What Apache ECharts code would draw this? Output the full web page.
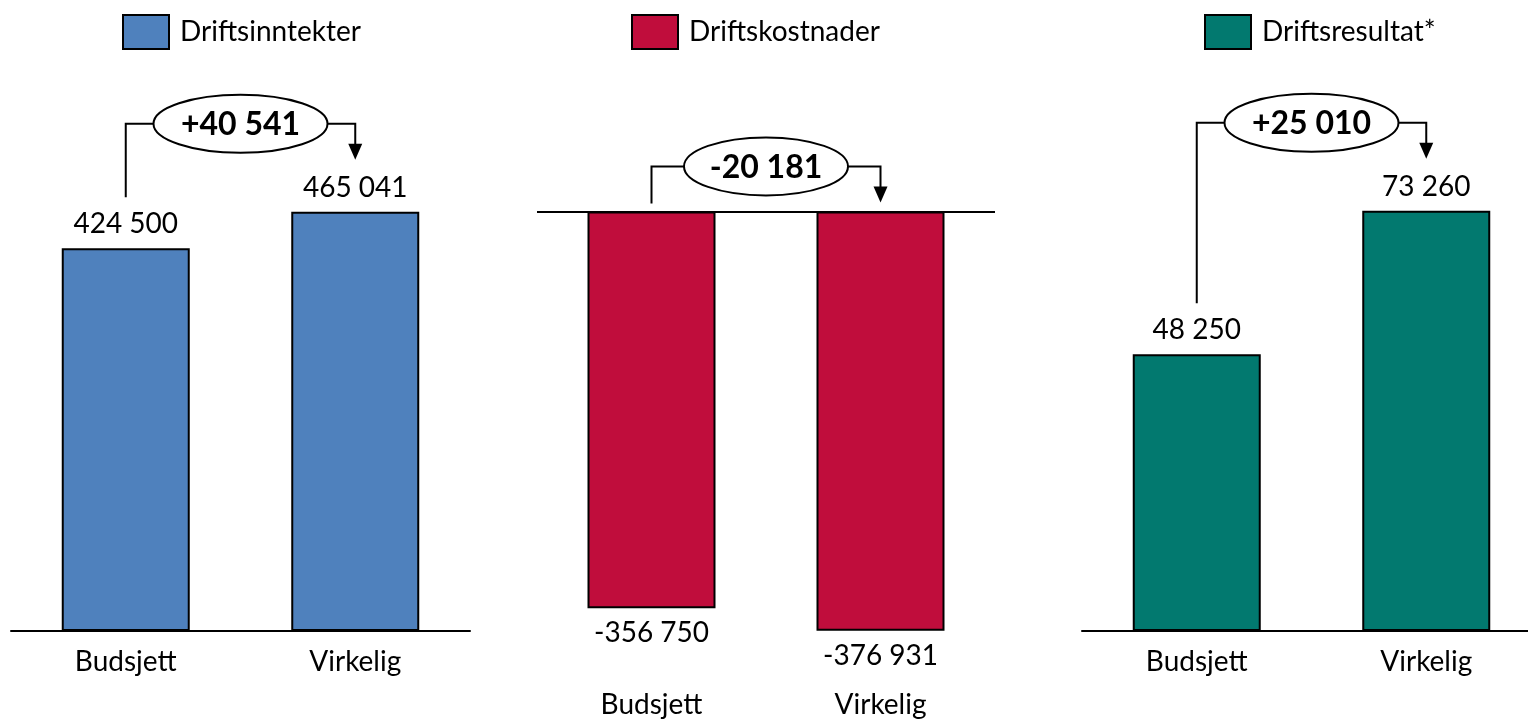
<!DOCTYPE html>
<html>
<head>
<meta charset="utf-8">
<style>html,body{margin:0;padding:0;background:#fff;}#c{width:1528px;height:721px;}</style>
<script src="https://cdn.jsdelivr.net/npm/echarts@6/dist/echarts.min.js"></script>
</head>
<body>
<div id="c"></div>
<script>
const categories = ['Budsjett', 'Virkelig'];
const legendNames = ['Driftsinntekter', 'Driftskostnader', 'Driftsresultat*'];
const inntekter = [424500, 465041];
const kostnader = [-356750, -376931];
const resultat = [48250, 73260];
const colors = ['#4F81BD', '#C00D3C', '#02796F'];

const FONT = 'Lato';
function fmt(n) {
  const s = Math.abs(n).toString().replace(/\B(?=(\d{3})+(?!\d))/g, ' ');
  return (n < 0 ? '-' : '') + s;
}
function fmtDiff(n) { return (n > 0 ? '+' : '') + fmt(n); }

function bracket(negative, rx) {
  return function (params, api) {
    const b = api.value(1), a = api.value(2);
    const pb = api.coord([0, b]), pa = api.coord([1, a]);
    const zero = api.coord([0, 0])[1];
    let yStart, yTip, yLevel;
    if (negative) {
      yStart = zero - 8; yTip = zero - 9; yLevel = zero - 45;
    } else {
      yStart = pb[1] - 51; yTip = pa[1] - 52; yLevel = Math.min(pb[1], pa[1]) - 88;
    }
    const xl = pb[0], xr = pa[0], cx = (xl + xr) / 2, ry = 29;
    const ls = { stroke: '#000', lineWidth: 2, fill: null };
    return {
      type: 'group',
      children: [
        { type: 'polyline', shape: { points: [[xl, yStart], [xl, yLevel], [cx - rx, yLevel]] }, style: ls },
        { type: 'polyline', shape: { points: [[cx + rx, yLevel], [xr, yLevel], [xr, yTip - 14]] }, style: ls },
        { type: 'polygon', shape: { points: [[xr - 7, yTip - 16], [xr + 7, yTip - 16], [xr, yTip]] }, style: { fill: '#000' } },
        { type: 'ellipse', shape: { cx: cx, cy: yLevel, rx: rx, ry: ry }, style: { fill: '#fff', stroke: '#000', lineWidth: 2 } },
        { type: 'text', x: cx, y: yLevel + 1, style: { text: fmtDiff(a - b), fontFamily: FONT, fontWeight: 'bold', fontSize: 32, fill: '#000', align: 'center', verticalAlign: 'middle' } }
      ]
    };
  };
}

const labelBase = { show: true, fontFamily: FONT, fontSize: 28, lineHeight: 28, color: '#000', formatter: p => fmt(p.value) };
const legendBase = { top: 14, padding: 0, itemWidth: 46, itemHeight: 34, icon: 'rect', itemGap: 0,
  itemStyle: { borderColor: '#000', borderWidth: 2 },
  textStyle: { fontFamily: FONT, fontSize: 28, color: '#000', padding: [0, 0, 0, 6] }, selectedMode: false };

function xAx(i, margin) {
  return { type: 'category', gridIndex: i, data: categories, axisTick: { show: false },
    axisLine: { show: i !== 1, onZero: false, lineStyle: { color: '#000', width: 2 } },
    axisLabel: { fontFamily: FONT, fontSize: 28, lineHeight: 28, color: '#000', margin: margin } };
}
function yAx(i, min, max) {
  return { type: 'value', gridIndex: i, min: min, max: max, show: false, splitLine: { show: false } };
}
const barStyle = c => ({ color: c, borderColor: '#000', borderWidth: 2 });

const option = {
  animation: false,
  grid: [
    { left: 11, width: 459, top: 0, height: 631, outerBoundsMode: 'none', containLabel: false },
    { left: 537, width: 458, top: 0, height: 672, outerBoundsMode: 'none', containLabel: false },
    { left: 1082, width: 459, top: 0, height: 631, outerBoundsMode: 'none', containLabel: false }
  ],
  legend: [
    Object.assign({}, legendBase, { data: [legendNames[0]], left: 122 }),
    Object.assign({}, legendBase, { data: [legendNames[1]], left: 631 }),
    Object.assign({}, legendBase, { data: [legendNames[2]], left: 1204 })
  ],
  xAxis: [xAx(0, 17), xAx(1, 19), xAx(2, 17)],
  yAxis: [yAx(0, 0, 700000), yAx(1, -414000, 190000), yAx(2, 0, 110000)],
  series: [
    { name: legendNames[0], type: 'bar', xAxisIndex: 0, yAxisIndex: 0, data: inntekter, barWidth: 128,
      itemStyle: barStyle(colors[0]), label: Object.assign({}, labelBase, { position: 'top', distance: 10 }) },
    { name: legendNames[1], type: 'bar', xAxisIndex: 1, yAxisIndex: 1, data: kostnader, barWidth: 128,
      itemStyle: barStyle(colors[1]), label: Object.assign({}, labelBase, { position: 'bottom', distance: 11 }),
      markLine: { silent: true, symbol: 'none', label: { show: false }, lineStyle: { color: '#000', width: 2, type: 'solid' }, data: [{ yAxis: 0 }] } },
    { name: legendNames[2], type: 'bar', xAxisIndex: 2, yAxisIndex: 2, data: resultat, barWidth: 128,
      itemStyle: barStyle(colors[2]), label: Object.assign({}, labelBase, { position: 'top', distance: 10 }) },
    { name: 'diff1', type: 'custom', xAxisIndex: 0, yAxisIndex: 0, silent: true, z: 5, renderItem: bracket(false, 87),
      encode: { x: 0, y: 1 }, data: [[0, inntekter[0], inntekter[1]]] },
    { name: 'diff2', type: 'custom', xAxisIndex: 1, yAxisIndex: 1, silent: true, z: 5, renderItem: bracket(true, 82),
      encode: { x: 0, y: 1 }, data: [[0, kostnader[0], kostnader[1]]] },
    { name: 'diff3', type: 'custom', xAxisIndex: 2, yAxisIndex: 2, silent: true, z: 5, renderItem: bracket(false, 87),
      encode: { x: 0, y: 1 }, data: [[0, resultat[0], resultat[1]]] }
  ]
};
const chart = echarts.init(document.getElementById('c'));
chart.setOption(option);
</script>
</body>
</html>
